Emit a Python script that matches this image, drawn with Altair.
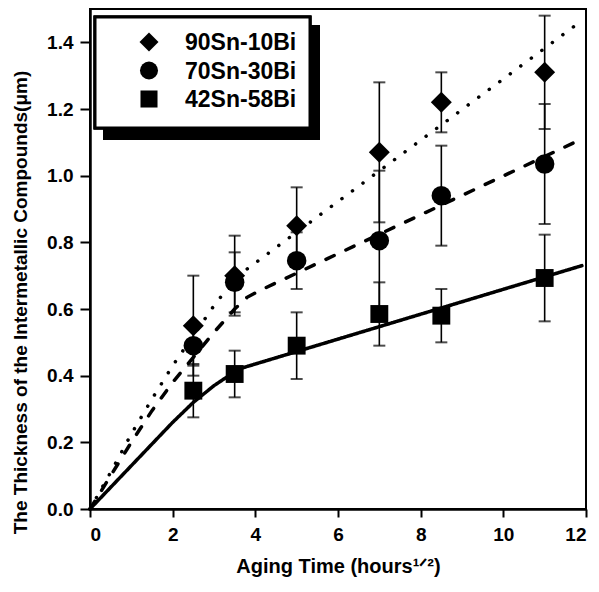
import altair as alt
import pandas as pd

# ---- data ----
alloys = ["90Sn-10Bi", "70Sn-30Bi", "42Sn-58Bi"]
aging_x = [2.5, 3.5, 5, 7, 8.5, 11]

sn90 = [0.55, 0.70, 0.85, 1.07, 1.22, 1.31]
sn90_err = [0.15, 0.12, 0.115, 0.21, 0.09, 0.17]
sn70 = [0.49, 0.68, 0.745, 0.805, 0.94, 1.035]
sn70_err = [0.06, 0.09, 0.085, 0.21, 0.15, 0.18]
sn42 = [0.355, 0.405, 0.49, 0.585, 0.58, 0.693]
sn42_err = [0.08, 0.07, 0.10, 0.095, 0.08, 0.13]

fit90_x = [0, 0.5, 1, 1.5, 2, 2.5, 3, 3.5, 3.8, 11.9]
fit90_y = [0, 0.11, 0.225, 0.33, 0.43, 0.52, 0.61, 0.69, 0.72, 1.465]
fit70_x = [0, 0.5, 1, 1.5, 2, 2.5, 3, 3.5, 3.8, 4.1, 11.9]
fit70_y = [0, 0.10, 0.20, 0.295, 0.38, 0.455, 0.53, 0.60, 0.635, 0.655, 1.11]
fit42_x = [0, 0.5, 1, 1.5, 2, 2.5, 3, 3.6, 11.9]
fit42_y = [0, 0.065, 0.13, 0.195, 0.26, 0.32, 0.37, 0.42, 0.73]

x_ticks = [0, 2, 4, 6, 8, 10, 12]
y_ticks = [0.0, 0.2, 0.4, 0.6, 0.8, 1.0, 1.2, 1.4]

# ---- tables ----
rows = []
for name, vals, errs in zip(alloys, [sn90, sn70, sn42], [sn90_err, sn70_err, sn42_err]):
    for xv, v, e in zip(aging_x, vals, errs):
        rows.append({"x": xv, "y": v, "lo": v - e, "hi": v + e, "alloy": name})
pts = pd.DataFrame(rows)

frows = []
for name, fx, fy in zip(alloys, [fit90_x, fit70_x, fit42_x], [fit90_y, fit70_y, fit42_y]):
    for i, (a, b) in enumerate(zip(fx, fy)):
        frows.append({"x": a, "y": b, "alloy": name, "order": i})
fits = pd.DataFrame(frows)

leg_df = pd.DataFrame({"alloy": alloys})

FONT = "Liberation Sans, Arial"

xs = alt.Scale(domain=[0, 12], nice=False)
ys = alt.Scale(domain=[0, 1.5], nice=False)
shape_scale = alt.Scale(domain=alloys, range=["diamond", "circle", "square"])

x_axis = alt.Axis(values=x_ticks, format="d", title="Aging Time (hours¹ᐟ²)", grid=False)
y_axis = alt.Axis(values=y_ticks, format=".1f",
                  title="The Thickness of the Intermetallic Compounds(μm)", grid=False,
                  titleX=-70, titleY=293, titleBaseline="middle",
                  tickSize=10, labelPadding=7)

base = alt.Chart(pts)

lines = alt.Chart(fits).mark_line(color="black", strokeWidth=3.5, strokeCap="round").encode(
    x=alt.X("x:Q", scale=xs, axis=x_axis),
    y=alt.Y("y:Q", scale=ys, axis=y_axis),
    detail="alloy:N",
    order="order:Q",
    strokeDash=alt.StrokeDash("alloy:N", scale=alt.Scale(domain=alloys,
                              range=[[0.1, 13], [9, 13], [1, 0]]), legend=None),
)

rules = base.mark_rule(color="black", strokeWidth=1.6).encode(
    x="x:Q", y="lo:Q", y2="hi:Q")
cap_lo = base.mark_tick(color="black", orient="horizontal", size=12, thickness=2).encode(
    x="x:Q", y="lo:Q")
cap_hi = base.mark_tick(color="black", orient="horizontal", size=12, thickness=2).encode(
    x="x:Q", y="hi:Q")

points = base.mark_point(filled=True, color="black", opacity=1).encode(
    x="x:Q", y="y:Q",
    shape=alt.Shape("alloy:N", scale=shape_scale, legend=None),
    size=alt.Size("alloy:N", scale=alt.Scale(domain=alloys, range=[440, 320, 270]), legend=None),
)

data_layer = alt.layer(lines, rules, cap_lo, cap_hi, points)

# ---- hand-built legend (box with drop shadow, symbols, labels) ----
leg_base = alt.Chart(leg_df)
shadow = leg_base.mark_rect(color="black").encode(
    x=alt.value(13), x2=alt.value(230), y=alt.value(16), y2=alt.value(131))
box = leg_base.mark_rect(fill="white", stroke="black", strokeWidth=3).encode(
    x=alt.value(5), x2=alt.value(220), y=alt.value(8), y2=alt.value(119))
leg_y = alt.Y("alloy:N", scale=alt.Scale(type="point", domain=alloys, range=[33, 90], padding=0),
              axis=None)
leg_sym = leg_base.mark_point(filled=True, color="black", opacity=1).encode(
    x=alt.value(59), y=leg_y,
    shape=alt.Shape("alloy:N", scale=shape_scale, legend=None),
    size=alt.Size("alloy:N", scale=alt.Scale(domain=alloys, range=[360, 290, 200]), legend=None),
)
leg_txt = leg_base.mark_text(align="left", baseline="middle", font=FONT, fontSize=23,
                             fontWeight="bold", color="black", dy=1).encode(
    x=alt.value(95), y=leg_y, text="alloy:N")
legend_layer = alt.layer(shadow, box, leg_sym, leg_txt)

chart = alt.layer(data_layer, legend_layer).resolve_scale(
    y="independent", size="independent"
).properties(
    width=496, height=500,
    autosize=alt.AutoSizeParams(type="none"),
    padding={"left": 82, "top": 1, "right": 5, "bottom": 70},
).configure_view(
    stroke="black", strokeWidth=2
).configure_axis(
    domainColor="black", domainWidth=2.5, tickColor="black", tickWidth=2, tickSize=8,
    labelFont=FONT, labelFontSize=19, labelFontWeight="bold", labelColor="black",
    titleFont=FONT, titleFontSize=19, titleFontWeight="bold", titleColor="black",
    labelPadding=4,
).configure_axisX(titlePadding=12, labelPadding=8, titleFontSize=20)

chart.save("out.html", embed_options={"renderer": "svg", "actions": False})
